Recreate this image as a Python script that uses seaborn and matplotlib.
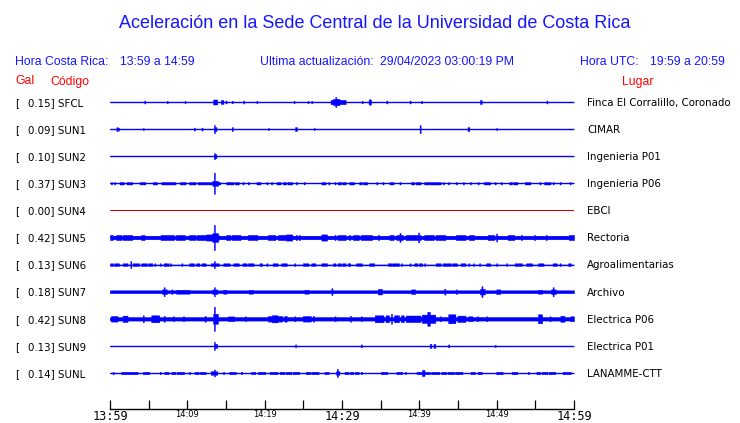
import numpy as np
import pandas as pd
import matplotlib
matplotlib.use("Agg")
import matplotlib.pyplot as plt
import seaborn as sns

# ---------------- data ----------------
codes = ["SFCL", "SUN1", "SUN2", "SUN3", "SUN4", "SUN5", "SUN6", "SUN7", "SUN8", "SUN9", "SUNL"]
gal = [0.15, 0.09, 0.10, 0.37, 0.00, 0.42, 0.13, 0.18, 0.42, 0.13, 0.14]
places = ["Finca El Corralillo, Coronado", "CIMAR", "Ingenieria P01", "Ingenieria P06", "EBCI",
          "Rectoria", "Agroalimentarias", "Archivo", "Electrica P06", "Electrica P01", "LANAMME-CTT"]
# continuous noise half-thickness of each trace (px)
base_px = [0, 0, 0, 0, 0, 1.8, 0, 1.4, 1.8, 0, 0]
tick_minutes = list(range(0, 61, 5))
tick_labels = ["13:59", "", "14:09", "", "14:19", "", "14:29", "", "14:39", "", "14:49", "", "14:59"]
big_labels = ["13:59", "14:29", "14:59"]
title = "Aceleración en la Sede Central de la Universidad de Costa Rica"
header_left = ["Hora Costa Rica:", "13:59 a 14:59"]
header_mid = ["Ultima actualización:", "29/04/2023 03:00:19 PM"]
header_right = ["Hora UTC:", "19:59 a 20:59"]

# bursts: (start minute, end minute, half-amplitude px)
ev_sfcl = [(4.5, 4.5, 1.5), (7.4, 7.4, 1.2), (9.7, 9.7, 1.2), (13.4, 13.8, 2.5), (14.4, 14.6, 2), (15.0, 15.0, 1.5),
           (15.8, 15.8, 1.2), (17.3, 17.3, 1.5), (19.0, 19.0, 1.2), (23.8, 23.8, 1.2), (25.6, 25.6, 1.2),
           (26.1, 26.1, 1.2), (28.6, 30.4, 2.2), (28.9, 29.6, 3.2), (29.2, 29.2, 5), (32.6, 32.6, 1.2),
           (33.5, 33.7, 2), (33.6, 33.6, 3), (35.8, 35.8, 1.5), (38.8, 38.8, 1.5), (40.3, 40.3, 1.2),
           (47.9, 48.0, 2), (56.5, 56.5, 1.5)]
ev_sun1 = [(0.9, 0.9, 2), (1.1, 1.1, 1.5), (4.3, 4.3, 1), (10.9, 10.9, 1.5), (11.9, 11.9, 1.5), (13.5, 13.5, 4),
           (13.6, 13.7, 2), (15.8, 15.8, 2), (20.5, 20.5, 1), (24.0, 24.1, 2), (26.4, 26.4, 1), (40.1, 40.1, 4),
           (46.3, 46.4, 2), (50.0, 50.0, 1)]
ev_sun2 = [(13.5, 13.5, 3), (13.6, 13.7, 2)]
ev_sun3 = [(0.2, 0.2, 1.2), (0.6, 0.6, 1.2), (1.3, 1.7, 1.2), (2.2, 2.4, 1.2), (2.6, 2.8, 1.2), (3.9, 4.1, 1.2),
           (4.3, 4.5, 1.2), (5.6, 6.0, 1.2), (6.7, 7.0, 1.2), (7.2, 7.5, 1.2), (7.7, 7.9, 1.2), (8.1, 8.4, 1.2),
           (9.1, 9.3, 1.2), (9.5, 9.7, 1.2), (10.3, 10.5, 1.2), (10.7, 11.0, 1.2), (11.4, 11.7, 1.2),
           (11.9, 12.1, 1.2), (12.3, 12.6, 1.2), (12.8, 13.1, 1.2), (13.3, 13.9, 2.5), (13.5, 13.5, 10.5),
           (13.8, 14.2, 1.2), (15.1, 15.4, 1.2), (15.6, 15.9, 1.2), (16.2, 16.6, 1.2), (17.2, 17.2, 1.2),
           (17.9, 17.9, 1.2), (19.0, 19.4, 1.2), (20.3, 20.3, 1.2), (20.9, 20.9, 1.2), (21.6, 22.0, 1.2),
           (22.4, 22.7, 1.2), (23.0, 23.5, 1.2), (24.1, 24.1, 1.2), (25.1, 25.1, 1.2), (27.4, 27.8, 1.2),
           (28.3, 28.3, 1.2), (29.1, 29.1, 1.2), (29.5, 29.8, 1.2), (30.1, 30.4, 1.2), (31.0, 31.5, 1.2),
           (32.3, 32.5, 1.2), (32.8, 33.2, 1.2), (34.5, 34.5, 1.2), (35.3, 35.3, 1.2), (36.2, 36.6, 1.2),
           (37.5, 37.5, 1.2), (39.0, 39.3, 1.2), (39.6, 40.1, 1.2), (40.7, 41.2, 1.2), (41.4, 42.7, 1.2),
           (43.1, 43.1, 1.2), (43.8, 43.8, 1.2), (44.8, 44.8, 1.2), (45.7, 45.7, 1.2), (46.6, 46.6, 1.2),
           (47.6, 47.6, 1.2), (48.4, 49.1, 1.2), (49.8, 49.8, 1.2), (50.6, 50.6, 1.2), (51.7, 51.9, 1.2),
           (52.2, 52.6, 1.2), (53.7, 54.3, 1.2), (55.6, 55.6, 1.2), (56.2, 56.9, 1.2), (57.3, 57.3, 1.2),
           (58.2, 58.2, 1.2), (59.5, 59.5, 1.2)]
ev_sun4 = []
ev_sun5 = [(0.0, 0.3, 2.6), (0.86, 1.42, 2.6), (1.72, 2.8, 2.6), (4.1, 4.4, 2.6), (6.6, 7.45, 2.6), (7.6, 8.2, 2.6),
           (8.6, 9.6, 2.6), (10.3, 11.0, 2.6), (11.3, 12.3, 2.6), (12.5, 13.4, 3.1), (13.3, 13.9, 4.5),
           (13.5, 13.5, 12.5), (14.0, 14.0, 2.6), (15.1, 15.5, 2.6), (15.8, 16.6, 2.6), (16.8, 16.8, 2.6),
           (17.9, 19.0, 2.6), (20.5, 21.3, 2.6), (21.8, 22.6, 2.6), (22.8, 23.5, 3.1), (24.1, 24.1, 2.6),
           (24.5, 24.5, 2.6), (27.4, 28.0, 3.1), (29.1, 29.1, 2.6), (29.5, 30.4, 2.6), (31.0, 31.0, 2.6),
           (31.5, 32.1, 2.6), (32.5, 33.8, 2.6), (34.7, 34.7, 2.6), (36.2, 36.6, 2.6), (37.1, 37.8, 2.6),
           (37.5, 37.5, 4.5), (38.3, 38.9, 2.6), (39.1, 40.1, 2.6), (39.9, 39.9, 5), (40.7, 41.8, 2.6),
           (42.2, 43.3, 2.6), (44.8, 45.9, 2.6), (46.5, 47.0, 2.6), (48.9, 49.6, 2.6), (50.0, 50.0, 4),
           (51.5, 52.2, 2.6), (53.2, 53.2, 2.6), (54.9, 54.9, 2.6), (56.4, 56.4, 2.6), (59.4, 60.0, 2.6)]
ev_sun6 = [(0.1, 0.3, 1.3), (0.6, 1.1, 1.3), (1.7, 2.2, 1.3), (2.7, 2.7, 3.5), (3.0, 3.7, 1.3), (4.1, 4.7, 1.3),
           (5.0, 5.4, 1.3), (5.8, 5.8, 1.3), (6.5, 6.5, 1.3), (7.0, 7.5, 1.3), (7.8, 7.8, 1.3), (9.3, 9.3, 1.3),
           (10.3, 10.8, 1.3), (11.2, 11.5, 1.3), (11.9, 12.3, 1.3), (13.1, 14.0, 1.3), (13.5, 13.5, 3.5),
           (14.7, 15.4, 1.3), (16.0, 16.6, 1.3), (17.2, 17.6, 1.3), (17.9, 18.5, 1.3), (19.4, 19.6, 1.3),
           (20.3, 20.3, 1.3), (21.1, 21.6, 1.3), (22.2, 22.8, 1.3), (23.9, 23.9, 1.3), (25.0, 25.6, 1.3),
           (26.1, 26.5, 1.3), (27.4, 28.0, 1.3), (28.9, 29.1, 1.3), (29.5, 29.8, 1.3), (30.1, 30.4, 1.3),
           (30.8, 31.0, 1.3), (31.9, 32.5, 1.3), (33.6, 34.1, 1.3), (36.0, 36.4, 1.3), (36.6, 37.3, 1.3),
           (37.7, 37.7, 1.3), (38.8, 38.8, 1.3), (39.4, 39.7, 1.3), (40.0, 40.3, 1.3), (40.7, 40.7, 1.3),
           (42.2, 42.7, 1.3), (43.1, 43.5, 1.3), (43.7, 44.0, 1.3), (44.3, 44.8, 1.3), (45.4, 45.9, 1.3),
           (46.4, 46.4, 1.3), (47.0, 47.0, 1.3), (47.8, 47.8, 1.3), (48.7, 49.1, 1.3), (50.0, 50.0, 1.3),
           (51.3, 51.3, 1.3), (52.4, 52.7, 1.3), (52.9, 53.2, 1.3), (53.9, 54.5, 1.3), (55.4, 56.0, 1.3),
           (57.3, 57.7, 1.3), (58.2, 58.2, 1.3), (59.3, 59.5, 1.3)]
ev_sun7 = [(6.8, 7.3, 2.3), (7.0, 7.0, 4.5), (8.0, 8.0, 2.3), (8.6, 10.2, 2.0), (13.3, 13.8, 2.3), (13.5, 13.5, 4.5),
           (14.7, 15.0, 2.0), (18.0, 18.4, 2.0), (25.2, 25.6, 2.0), (28.7, 28.7, 3.5), (34.7, 35.1, 2.8),
           (39.0, 39.4, 2.3), (43.3, 43.3, 3), (44.8, 44.8, 2.3), (47.9, 48.4, 2.8), (48.1, 48.1, 5.5),
           (50.0, 50.4, 2.3), (55.4, 55.8, 2.0), (57.1, 57.6, 2.3), (57.3, 57.3, 4.5)]
ev_sun8 = [(0.2, 0.9, 2.8), (1.7, 2.2, 3.2), (4.3, 4.3, 3.5), (5.4, 6.3, 3.5), (7.0, 7.0, 3), (8.2, 8.2, 2.5),
           (9.5, 9.5, 2.5), (12.3, 12.3, 3), (13.4, 13.9, 5), (13.5, 13.5, 12), (15.3, 16.0, 2.4), (17.5, 17.5, 2.5),
           (20.5, 22.2, 2.8), (21.0, 21.6, 3.6), (22.6, 22.8, 2.8), (23.9, 23.9, 2.5), (25.0, 25.9, 2.8),
           (26.3, 26.3, 3), (29.1, 29.1, 2.5), (31.1, 31.1, 3), (32.5, 32.5, 2.5), (34.3, 35.3, 3.5),
           (35.7, 36.0, 3.5), (36.4, 36.4, 5), (36.8, 37.3, 3.5), (37.7, 37.9, 3.5), (38.3, 40.1, 3.3),
           (40.4, 42.0, 4.2), (41.1, 41.3, 7), (42.7, 42.7, 2.5), (43.8, 44.6, 4.5), (45.0, 45.9, 3.2),
           (46.4, 46.8, 2.5), (47.5, 47.5, 2.5), (48.7, 48.7, 2.5), (55.4, 55.8, 4.5), (56.9, 56.9, 2.5),
           (58.3, 58.7, 3), (59.6, 60.0, 2.5)]
ev_sun9 = [(13.5, 13.5, 4), (13.5, 13.8, 2), (24.0, 24.0, 1.5), (32.5, 32.5, 1.5), (41.4, 41.5, 2),
           (41.9, 42.0, 2), (43.8, 43.8, 1.5), (49.8, 49.8, 1)]
ev_sunl = [(0.4, 0.4, 1.2), (1.5, 2.0, 1.2), (2.2, 2.6, 1.2), (2.8, 3.5, 1.2), (4.3, 5.0, 1.2), (6.5, 6.5, 1.2),
           (7.1, 7.5, 1.2), (8.0, 8.4, 1.2), (8.7, 9.5, 1.2), (10.3, 10.3, 1.2), (11.0, 11.4, 1.2), (11.7, 12.3, 1.2),
           (13.1, 13.8, 1.8), (13.5, 13.5, 3.5), (14.7, 14.7, 1.2), (15.5, 16.2, 1.2), (17.0, 17.0, 1.2),
           (18.3, 18.7, 1.2), (19.2, 20.0, 1.2), (20.7, 21.6, 1.2), (22.0, 22.5, 1.2), (22.8, 23.4, 1.2),
           (23.7, 24.4, 1.2), (25.4, 25.8, 1.2), (26.1, 26.9, 1.2), (27.8, 28.2, 1.2), (29.3, 29.6, 1.8),
           (29.4, 29.4, 4), (30.4, 30.8, 1.2), (31.1, 31.4, 1.2), (31.7, 32.1, 1.2), (32.5, 32.5, 1.2),
           (35.1, 35.8, 1.2), (37.1, 37.7, 1.2), (38.2, 38.2, 1.2), (39.7, 40.2, 1.2), (40.4, 40.6, 3),
           (40.8, 41.3, 1.2), (41.6, 42.5, 1.2), (42.9, 43.4, 1.2), (43.7, 44.4, 1.2), (44.7, 45.5, 1.2),
           (46.7, 47.1, 1.2), (47.6, 48.0, 1.2), (50.0, 50.7, 1.2), (52.0, 52.6, 1.2), (54.1, 54.1, 1.2),
           (55.2, 55.6, 1.2), (55.9, 56.5, 1.2), (56.8, 57.5, 1.2), (58.6, 59.5, 1.2)]
events = [ev_sfcl, ev_sun1, ev_sun2, ev_sun3, ev_sun4, ev_sun5, ev_sun6, ev_sun7, ev_sun8, ev_sun9, ev_sunl]

# ---------------- style ----------------
BLUE = "#0000ff"
TBLUE = "#1515ff"
RED = "#ff0000"
W, H = 740, 423
sns.set_style("white", {"xtick.bottom": True, "axes.edgecolor": "black"})
plt.rcParams["font.family"] = ["DejaVu Sans"]

fig = plt.figure(figsize=(W / 100, H / 100), dpi=100)
fig.patch.set_facecolor("white")

# axes in pixel layout: x 110..574, y 90..409
ax = fig.add_axes([110 / W, (H - 409) / H, 464 / W, (409 - 90) / H])
ax.set_facecolor("none")
ROW_PX = 27.1
n = len(codes)

df = pd.DataFrame({
    "t": np.tile([0, 60], n),
    "row": np.repeat(np.arange(n), 2),
    "code": np.repeat(codes, 2),
})
palette = {c: ("#dd0000" if g == 0 else BLUE) for c, g in zip(codes, gal)}
sns.lineplot(data=df, x="t", y="row", hue="code", hue_order=codes, palette=palette,
             legend=False, linewidth=1.0, estimator=None, sort=False, ax=ax)
for ln, g in zip(ax.lines, gal):
    if g == 0:
        ln.set_linewidth(0.75)

t = np.linspace(0, 60, 3001)
for i in range(n):
    env = np.full_like(t, float(base_px[i]))
    for a, b, amp in events[i]:
        m = (t >= a - 0.07) & (t <= b + 0.07)
        env[m] = np.maximum(env[m], amp)
    if env.max() > 0:
        ax.fill_between(t, i - env / ROW_PX, i + env / ROW_PX, step="mid", color=BLUE,
                        linewidth=0.3, edgecolor=BLUE)

ax.set_xlim(0, 60)
ax.set_ylim((409 - 102) / ROW_PX, (90 - 102) / ROW_PX)
ax.set_yticks([])
ax.set_xlabel("")
ax.set_ylabel("")
for s in ["top", "left", "right"]:
    ax.spines[s].set_visible(False)
ax.spines["bottom"].set_visible(True)
ax.spines["bottom"].set_color("black")
ax.spines["bottom"].set_linewidth(1.0)
ax.set_xticks(tick_minutes)
ax.set_xticklabels(tick_labels)
ax.tick_params(axis="x", which="major", bottom=True, direction="in", length=6.5, width=0.9,
               pad=1.0, colors="black")
for lab in ax.get_xticklabels():
    if lab.get_text() in big_labels:
        lab.set_fontfamily("DejaVu Sans Mono")
        lab.set_fontsize(8.6)
    else:
        lab.set_fontfamily("DejaVu Sans")
        lab.set_fontsize(6)


def ftext(x, y, s, **kw):
    fig.text(x / W, 1 - y / H, s, **kw)


ftext(375, 28.5, title, ha="center", va="baseline", fontsize=13, family="Liberation Sans", color=TBLUE)
hk = dict(va="baseline", fontsize=8.8, family="Liberation Sans", color=TBLUE)
ftext(15, 64.5, header_left[0], **hk)
ftext(120, 64.5, header_left[1], **hk)
ftext(260, 64.5, header_mid[0], **hk)
ftext(380, 64.5, header_mid[1], **hk)
ftext(580, 64.5, header_right[0], **hk)
ftext(650, 64.5, header_right[1], **hk)
rk = dict(va="baseline", fontsize=8.8, family="Liberation Sans", color=RED)
ftext(15, 84.5, "Gal", **rk)
ftext(50, 84.5, "Código", **rk)
ftext(622, 84.5, "Lugar", **rk)

lk = dict(va="baseline", fontsize=7.4, family="DejaVu Sans", color="black")
for i in range(n):
    yb = 102 + ROW_PX * i + 3.8
    ftext(15, yb, "[", **lk)
    ftext(28, yb, f"{gal[i]:.2f}] {codes[i]}", **lk)
    ftext(587, yb, places[i], **lk)

fig.savefig("out.png", dpi=100, facecolor="white")
